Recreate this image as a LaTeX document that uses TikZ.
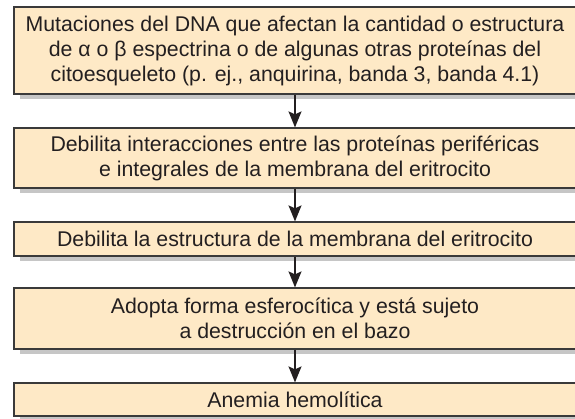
\documentclass[tikz,border=0pt]{standalone}
\usepackage{fontspec}
\setmainfont{Liberation Sans}
\usetikzlibrary{arrows.meta,shadows}
\definecolor{boxfill}{HTML}{FEE9C6}
\definecolor{boxline}{HTML}{3A3A3A}
\definecolor{txt}{HTML}{231F20}
\definecolor{shadowgray}{HTML}{C6C6C6}
\begin{document}
\begin{tikzpicture}[x=1pt,y=1pt,
  flowbox/.style={draw=boxline, line width=1.2pt, fill=boxfill, minimum width=562pt,
    inner sep=0pt, align=center, text=txt, font=\fontsize{21.3}{25}\selectfont,
    drop shadow={shadow xshift=6pt, shadow yshift=-5pt, fill=shadowgray, opacity=1}},
  flowarrow/.style={draw=txt, line width=1.6pt, -{Stealth[length=16pt,width=13pt,inset=3pt]}}]
\useasboundingbox (0,0) rectangle (575,418);
\node[flowbox, minimum height=87pt] (b1) at (295,367.5)
  {Mutaciones del DNA que afectan la cantidad o estructura\\
   de α o β espectrina o de algunas otras proteínas del\\
   citoesqueleto (p. ej., anquirina, banda 3, banda 4.1)};
\node[flowbox, minimum height=60pt] (b2) at (295,260)
  {Debilita interacciones entre las proteínas periféricas\\
   e integrales de la membrana del eritrocito};
\node[flowbox, minimum height=34pt] (b3) at (295,179)
  {Debilita la estructura de la membrana del eritrocito};
\node[flowbox, minimum height=61pt] (b4) at (295,99.5)
  {Adopta forma esferocítica y está sujeto\\
   a destrucción en el bazo};
\node[flowbox, minimum height=33pt] (b5) at (295,18.5)
  {Anemia hemolítica};
\draw[flowarrow] (b1.south) -- (b2.north);
\draw[flowarrow] (b2.south) -- (b3.north);
\draw[flowarrow] (b3.south) -- (b4.north);
\draw[flowarrow] (b4.south) -- (b5.north);
\end{tikzpicture}
\end{document}
